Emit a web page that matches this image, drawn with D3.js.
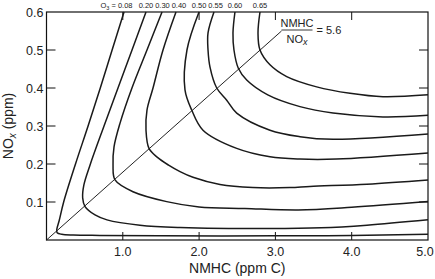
<!DOCTYPE html>
<html>
<head>
<meta charset="utf-8">
<script src="https://cdn.jsdelivr.net/npm/d3@7"></script>
<style>
  body { margin: 0; background: #fff; }
  svg { display: block; font-family: "Liberation Sans", Arial, sans-serif; }
</style>
</head>
<body>
<div id="chart"></div>
<script>
// O3 isopleths, NMHC (ppm C) vs NOx (ppm)
var o3Levels = ["0.08", "0.20", "0.30", "0.40", "0.50", "0.55", "0.60", "0.65"];
var xTicks = [1, 2, 3, 4, 5];
var yTicks = [0.1, 0.2, 0.3, 0.4, 0.5, 0.6];
var ratio = 5.6;   // NMHC / NOx line
var ratioEnd = 3.08;

// each contour: [NMHC, NOx]
var c008 = [[1.016, 0.6], [0.86, 0.5], [0.705, 0.4], [0.545, 0.3], [0.38, 0.2], [0.225, 0.1],
    [0.165, 0.05], [0.135, 0.028], [0.14, 0.019], [0.2, 0.015], [0.35, 0.013], [0.7, 0.012],
    [1.5, 0.011], [3, 0.011], [4, 0.012], [5, 0.015]];
var c020 = [[1.304, 0.6], [1.121, 0.5], [0.937, 0.4], [0.754, 0.3], [0.57, 0.197], [0.49, 0.145],
    [0.474, 0.111], [0.505, 0.088], [0.636, 0.066], [0.793, 0.053], [1.225, 0.039], [1.75, 0.033],
    [2.93, 0.030], [3.6, 0.032], [4.2, 0.039], [5, 0.053]];
var c030 = [[1.514, 0.6], [1.317, 0.5], [1.12, 0.4], [0.963, 0.307], [0.885, 0.245], [0.872, 0.197],
    [0.898, 0.158], [1.134, 0.127], [1.575, 0.101], [2.0, 0.087], [2.6, 0.083], [3.3, 0.079],
    [4.0, 0.086], [5, 0.101]];
var c040 = [[1.697, 0.6], [1.527, 0.5], [1.396, 0.4], [1.317, 0.342], [1.304, 0.289], [1.343, 0.241],
    [1.45, 0.218], [1.6, 0.197], [1.75, 0.18], [1.92, 0.165], [2.274, 0.146], [2.706, 0.138],
    [3.19, 0.138], [3.453, 0.141], [4.2, 0.147], [5, 0.158]];
var c050 = [[1.999, 0.6], [1.841, 0.5], [1.815, 0.395], [1.903, 0.342], [2.051, 0.289], [2.493, 0.241],
    [2.929, 0.219], [3.322, 0.213], [3.8, 0.213], [5, 0.229]];
var c055 = [[2.195, 0.6], [2.117, 0.545], [2.117, 0.5], [2.143, 0.455], [2.231, 0.4], [2.362, 0.368],
    [2.493, 0.334], [2.929, 0.289], [3.322, 0.272], [3.755, 0.265], [5, 0.279]];
var c060 = [[2.47, 0.6], [2.444, 0.545], [2.457, 0.5], [2.514, 0.452], [2.624, 0.421], [2.9, 0.382],
    [3.322, 0.351], [3.755, 0.334], [4.41, 0.324], [5, 0.328]];
var c065 = [[2.798, 0.6], [2.772, 0.545], [2.798, 0.5], [2.929, 0.461], [3.148, 0.43], [3.541, 0.403],
    [3.978, 0.386], [4.41, 0.377], [5, 0.382]];
var contours = [c008, c020, c030, c040, c050, c055, c060, c065];

var W = 435, H = 279;
var m = {top: 12, right: 7, bottom: 39, left: 46.5};

var svg = d3.select("#chart").append("svg")
    .attr("width", W)
    .attr("height", H);

var x = d3.scaleLinear().domain([0, 5]).range([m.left, W - m.right]);
var y = d3.scaleLinear().domain([0, 0.6]).range([H - m.bottom, m.top]);

// frame
svg.append("rect")
    .attr("x", x(0)).attr("y", y(0.6))
    .attr("width", x(5) - x(0)).attr("height", y(0) - y(0.6))
    .attr("fill", "none").attr("stroke", "#111").attr("stroke-width", 1.2);

// inward ticks on all four sides
var tk = svg.append("g").attr("stroke", "#111").attr("stroke-width", 1);
xTicks.slice(0, 4).forEach(function (d) {
    tk.append("line").attr("x1", x(d)).attr("x2", x(d)).attr("y1", y(0)).attr("y2", y(0) - 8);
    tk.append("line").attr("x1", x(d)).attr("x2", x(d)).attr("y1", y(0.6)).attr("y2", y(0.6) + 8);
});
yTicks.slice(0, 5).forEach(function (d) {
    tk.append("line").attr("x1", x(0)).attr("x2", x(0) + 9).attr("y1", y(d)).attr("y2", y(d));
    tk.append("line").attr("x1", x(5)).attr("x2", x(5) - 9).attr("y1", y(d)).attr("y2", y(d));
});

// tick labels
svg.append("g").selectAll("text").data(xTicks).enter().append("text")
    .attr("x", function (d) { return Math.min(x(d), W - 10); })
    .attr("y", y(0) + 15.5)
    .attr("text-anchor", "middle")
    .attr("font-size", 12.5).attr("fill", "#222")
    .text(function (d) { return d.toFixed(1); });
svg.append("g").selectAll("text").data(yTicks).enter().append("text")
    .attr("x", x(0) - 3)
    .attr("y", function (d) { return y(d) + 4.5; })
    .attr("text-anchor", "end")
    .attr("font-size", 12.5).attr("fill", "#222")
    .text(function (d) { return d.toFixed(1); });

// axis titles
svg.append("text")
    .attr("x", (x(0) + x(5)) / 2).attr("y", 273)
    .attr("text-anchor", "middle").attr("font-size", 14).attr("fill", "#222")
    .text("NMHC (ppm C)");
var yt = svg.append("text")
    .attr("transform", "translate(12.5," + (y(0.3)) + ") rotate(-90)")
    .attr("text-anchor", "middle").attr("font-size", 14).attr("fill", "#222");
yt.append("tspan").text("NO");
yt.append("tspan").attr("font-size", 10).attr("font-style", "italic").attr("dy", 3).text("x");
yt.append("tspan").attr("dy", -3).text(" (ppm)");

// ratio line
svg.append("line")
    .attr("x1", x(0)).attr("y1", y(0))
    .attr("x2", x(ratioEnd)).attr("y2", y(ratioEnd / ratio))
    .attr("stroke", "#222").attr("stroke-width", 1);

var fx = x(ratioEnd), fy = y(ratioEnd / ratio);
svg.append("text").attr("x", fx + 15.5).attr("y", fy - 4.5)
    .attr("text-anchor", "middle").attr("font-size", 11).attr("fill", "#222").text("NMHC");
svg.append("line").attr("x1", fx).attr("x2", fx + 31).attr("y1", fy - 1).attr("y2", fy - 1)
    .attr("stroke", "#222").attr("stroke-width", 0.9);
var den = svg.append("text").attr("x", fx + 15.5).attr("y", fy + 11.5)
    .attr("text-anchor", "middle").attr("font-size", 11).attr("fill", "#222");
den.append("tspan").text("NO");
den.append("tspan").attr("font-size", 9).attr("font-style", "italic").attr("dy", 2.5).text("x");
svg.append("text").attr("x", fx + 35).attr("y", fy + 3)
    .attr("font-size", 11).attr("fill", "#222").text("= 5.6");

// isopleths
var line = d3.line()
    .x(function (d) { return x(d[0]); })
    .y(function (d) { return y(d[1]); })
    .curve(d3.curveCatmullRom.alpha(0.5));

svg.append("g").selectAll("path").data(contours).enter().append("path")
    .attr("d", line)
    .attr("fill", "none")
    .attr("stroke", "#1a1a1a")
    .attr("stroke-width", 1.5);

// level labels above the frame, pushed apart so they don't collide
var lab = svg.append("g").attr("font-size", 7.5).attr("fill", "#222");
var prev = -Infinity;
contours.forEach(function (c, i) {
    var cx = Math.max(x(c[0][0]), prev + 16.5);
    prev = cx;
    var t = lab.append("text").attr("y", 7.5);
    if (i === 0) {
        t.attr("x", cx + 8.5).attr("text-anchor", "end");
        t.append("tspan").text("O");
        t.append("tspan").attr("font-size", 5.5).attr("dy", 2).text("3");
        t.append("tspan").attr("dy", -2).text(" = " + o3Levels[i]);
    } else {
        t.attr("x", cx).attr("text-anchor", "middle").text(o3Levels[i]);
    }
});
</script>
</body>
</html>
